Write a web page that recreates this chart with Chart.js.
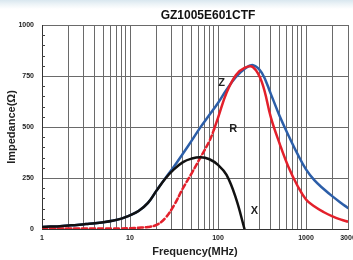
<!DOCTYPE html>
<html>
<head>
<meta charset="utf-8">
<script src="https://cdn.jsdelivr.net/npm/chart.js@4/dist/chart.umd.min.js"></script>
<style>
  html, body { margin: 0; padding: 0; }
  body { width: 353px; height: 260px; background: linear-gradient(#d9e7ef 0px, #ecf3f7 4px, #ffffff 9px); }
  #chart { display: block; }
</style>
</head>
<body>
<canvas id="chart" width="353" height="260"></canvas>
<script>
// frequency (MHz) and impedance (ohm)
const freqZ = [1, 1.25, 1.6, 2, 2.5, 3.15, 4, 5, 6.3, 8, 10, 12.5, 16, 20, 25, 31.5, 40, 50, 63, 80, 100, 125, 160, 200, 250, 315, 400, 500, 630, 800, 1000, 1250, 1600, 2000, 2500, 3000];
const impedanceZ = [10, 12, 14, 17, 20, 24, 28, 33, 40, 51, 67, 88, 128, 188, 247, 305, 370, 432, 498, 560, 618, 683, 745, 785, 803, 765, 660, 555, 460, 368, 292, 238, 195, 160, 128, 103];

const freqR = [1, 1.25, 1.6, 2, 2.5, 3.15, 4, 5, 6.3, 8, 10, 12.5, 16, 20, 25, 31.5, 40, 50, 63, 80, 90, 100, 125, 160, 200, 250, 315, 400, 500, 630, 800, 1000, 1250, 1600, 2000, 2500, 3000];
const resistanceR = [3, 3, 3, 3, 3, 3, 3, 3, 3, 3, 4, 6, 10, 20, 52, 115, 200, 272, 350, 432, 488, 545, 668, 755, 790, 793, 720, 545, 420, 305, 212, 145, 110, 82, 62, 46, 36];

const freqX = [1, 1.25, 1.6, 2, 2.5, 3.15, 4, 5, 6.3, 8, 10, 12.5, 16, 20, 25, 31.5, 40, 50, 63, 80, 100, 125, 160, 200];
const reactanceX = [10, 12, 14, 17, 20, 24, 28, 33, 40, 51, 67, 88, 128, 188, 245, 292, 328, 345, 352, 342, 314, 265, 150, 0];

// R is drawn dashed up to this frequency
const dashedUntil = 90;

const curveNames = ['Z', 'R', 'X'];
const curveLabelFreq = [110, 149, 260];
const curveLabelImp = [716, 490, 88];

const xTickValues = [];
for (let e = 0; e <= 3; e++) {
    for (let s = 1; s <= 9; s++) {
        const v = s * Math.pow(10, e);
        if (v <= 3000) xTickValues.push(v);
    }
}
const xLabeled = [1, 10, 100, 1000, 3000];
const yMinorStep = 50;

const FONT = "'Liberation Sans', Arial, sans-serif";

function pts(xs, ys) {
    return xs.map((x, i) => ({x: x, y: ys[i]}));
}

const decorations = {
    id: 'decorations',
    afterDatasetsDraw: function (chart) {
        const ctx = chart.ctx;
        const xs = chart.scales.x;
        const ys = chart.scales.y;
        ctx.save();
        // small inner ticks on the y axis
        ctx.strokeStyle = '#444';
        ctx.lineWidth = 1;
        for (let v = yMinorStep; v < ys.max; v += yMinorStep) {
            if (v % 250 === 0) continue;
            const y = Math.round(ys.getPixelForValue(v)) + 0.5;
            ctx.beginPath();
            ctx.moveTo(xs.left, y);
            ctx.lineTo(xs.left + 3, y);
            ctx.stroke();
        }
        // curve names
        ctx.font = 'bold 11px ' + FONT;
        ctx.fillStyle = '#222';
        ctx.textAlign = 'center';
        ctx.textBaseline = 'middle';
        for (let i = 0; i < curveNames.length; i++) {
            ctx.fillText(curveNames[i], xs.getPixelForValue(curveLabelFreq[i]), ys.getPixelForValue(curveLabelImp[i]));
        }
        // title
        ctx.font = 'bold 12px ' + FONT;
        ctx.fillStyle = '#111';
        ctx.fillText('GZ1005E601CTF', 208, 16);
        ctx.restore();
    }
};

new Chart(document.getElementById('chart'), {
    type: 'line',
    data: {
        datasets: [
            {
                label: 'X',
                data: pts(freqX, reactanceX),
                borderColor: '#111111',
                borderWidth: 2.5,
                order: 0
            },
            {
                label: 'R',
                data: pts(freqR, resistanceR),
                borderColor: '#e3202b',
                borderWidth: 2.5,
                order: 1,
                segment: {
                    borderDash: ctx => ctx.p1.parsed.x <= dashedUntil ? [5, 3] : undefined
                }
            },
            {
                label: 'Z',
                data: pts(freqZ, impedanceZ),
                borderColor: '#2c5ea8',
                borderWidth: 2.5,
                order: 2
            }
        ]
    },
    options: {
        responsive: false,
        animation: false,
        layout: {padding: {top: 25, right: 5, left: 0, bottom: 0}},
        elements: {
            point: {radius: 0},
            line: {tension: 0.4, borderCapStyle: 'round', borderJoinStyle: 'round'}
        },
        plugins: {
            legend: {display: false},
            tooltip: {enabled: false},
            title: {display: false}
        },
        scales: {
            x: {
                type: 'logarithmic',
                min: 1,
                max: 3000,
                afterBuildTicks: function (scale) {
                    scale.ticks = xTickValues.map(v => ({value: v, major: xLabeled.includes(v)}));
                },
                afterFit: function (scale) {
                    scale.height = 31;
                    scale.paddingLeft = 0;
                    scale.paddingRight = 0;
                },
                grid: {color: '#6a6a6a', lineWidth: 1, drawTicks: false},
                border: {color: '#333', width: 1},
                ticks: {
                    autoSkip: false,
                    maxRotation: 0,
                    padding: 5,
                    color: '#222',
                    font: {family: FONT, size: 7, weight: 'bold'},
                    callback: function (value) {
                        return xLabeled.includes(value) ? String(value) : '';
                    }
                },
                title: {
                    display: true,
                    text: 'Frequency(MHz)',
                    color: '#222',
                    font: {family: FONT, size: 11, weight: 'bold'},
                    padding: {top: 0, bottom: 1}
                }
            },
            y: {
                min: 0,
                max: 1000,
                afterFit: function (scale) {
                    scale.width = 42;
                },
                grid: {color: '#6a6a6a', lineWidth: 1, drawTicks: false},
                border: {color: '#333', width: 1},
                ticks: {
                    stepSize: 250,
                    padding: 8,
                    color: '#222',
                    font: {family: FONT, size: 7, weight: 'bold'},
                    callback: function (value) {
                        return String(value);
                    }
                },
                title: {
                    display: true,
                    text: 'Impedance(Ω)',
                    color: '#222',
                    font: {family: FONT, size: 11, weight: 'bold'},
                    padding: {top: 5, bottom: 0}
                }
            }
        }
    },
    plugins: [decorations]
});
</script>
</body>
</html>
